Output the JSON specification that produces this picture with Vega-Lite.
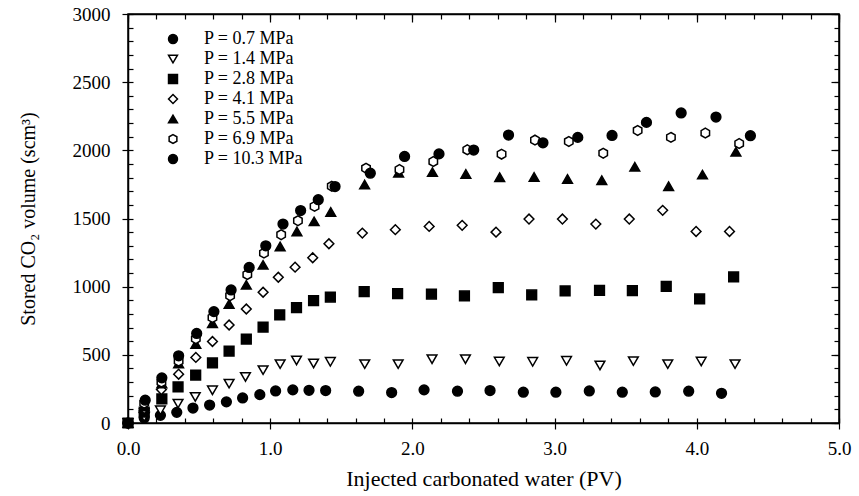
{
  "$schema": "https://vega.github.io/schema/vega-lite/v6.json",
  "width": 711,
  "height": 409,
  "autosize": {"type": "none"},
  "padding": {"left": 128, "top": 14, "right": 20, "bottom": 73},
  "background": "white",
  "config": {
    "view": {"stroke": "black", "strokeWidth": 1.5},
    "font": "Liberation Serif",
    "axis": {"grid": false, "labelFlush": false, "labelOverlap": false, "domainColor": "black", "tickColor": "black", "labelColor": "black", "titleColor": "black", "labelFont": "Liberation Serif", "titleFont": "Liberation Serif", "titleFontWeight": "normal", "domainWidth": 1.5, "tickWidth": 1.2}
  },
  "data": {"values": [
    {"P": "P = 0.7 MPa", "x": 0, "y": 0},
    {"P": "P = 0.7 MPa", "x": 0.114, "y": 37},
    {"P": "P = 0.7 MPa", "x": 0.228, "y": 56},
    {"P": "P = 0.7 MPa", "x": 0.343, "y": 78},
    {"P": "P = 0.7 MPa", "x": 0.457, "y": 110},
    {"P": "P = 0.7 MPa", "x": 0.574, "y": 132},
    {"P": "P = 0.7 MPa", "x": 0.692, "y": 155},
    {"P": "P = 0.7 MPa", "x": 0.806, "y": 184},
    {"P": "P = 0.7 MPa", "x": 0.927, "y": 208},
    {"P": "P = 0.7 MPa", "x": 1.038, "y": 235},
    {"P": "P = 0.7 MPa", "x": 1.159, "y": 243},
    {"P": "P = 0.7 MPa", "x": 1.273, "y": 240},
    {"P": "P = 0.7 MPa", "x": 1.39, "y": 238},
    {"P": "P = 0.7 MPa", "x": 1.622, "y": 233},
    {"P": "P = 0.7 MPa", "x": 1.854, "y": 223},
    {"P": "P = 0.7 MPa", "x": 2.082, "y": 243},
    {"P": "P = 0.7 MPa", "x": 2.317, "y": 233},
    {"P": "P = 0.7 MPa", "x": 2.546, "y": 238},
    {"P": "P = 0.7 MPa", "x": 2.78, "y": 226},
    {"P": "P = 0.7 MPa", "x": 3.009, "y": 226},
    {"P": "P = 0.7 MPa", "x": 3.244, "y": 235},
    {"P": "P = 0.7 MPa", "x": 3.476, "y": 226},
    {"P": "P = 0.7 MPa", "x": 3.708, "y": 228},
    {"P": "P = 0.7 MPa", "x": 3.943, "y": 233},
    {"P": "P = 0.7 MPa", "x": 4.174, "y": 218},

    {"P": "P = 1.4 MPa", "x": 0, "y": 0},
    {"P": "P = 1.4 MPa", "x": 0.114, "y": 44},
    {"P": "P = 1.4 MPa", "x": 0.228, "y": 93},
    {"P": "P = 1.4 MPa", "x": 0.352, "y": 142},
    {"P": "P = 1.4 MPa", "x": 0.473, "y": 191},
    {"P": "P = 1.4 MPa", "x": 0.594, "y": 240},
    {"P": "P = 1.4 MPa", "x": 0.711, "y": 289},
    {"P": "P = 1.4 MPa", "x": 0.826, "y": 338},
    {"P": "P = 1.4 MPa", "x": 0.95, "y": 388},
    {"P": "P = 1.4 MPa", "x": 1.07, "y": 432},
    {"P": "P = 1.4 MPa", "x": 1.185, "y": 459},
    {"P": "P = 1.4 MPa", "x": 1.305, "y": 437},
    {"P": "P = 1.4 MPa", "x": 1.423, "y": 449},
    {"P": "P = 1.4 MPa", "x": 1.665, "y": 432},
    {"P": "P = 1.4 MPa", "x": 1.9, "y": 432},
    {"P": "P = 1.4 MPa", "x": 2.138, "y": 468},
    {"P": "P = 1.4 MPa", "x": 2.373, "y": 468},
    {"P": "P = 1.4 MPa", "x": 2.611, "y": 451},
    {"P": "P = 1.4 MPa", "x": 2.846, "y": 449},
    {"P": "P = 1.4 MPa", "x": 3.084, "y": 456},
    {"P": "P = 1.4 MPa", "x": 3.319, "y": 422},
    {"P": "P = 1.4 MPa", "x": 3.554, "y": 454},
    {"P": "P = 1.4 MPa", "x": 3.796, "y": 432},
    {"P": "P = 1.4 MPa", "x": 4.031, "y": 451},
    {"P": "P = 1.4 MPa", "x": 4.269, "y": 432},

    {"P": "P = 2.8 MPa", "x": 0, "y": 0},
    {"P": "P = 2.8 MPa", "x": 0.114, "y": 80},
    {"P": "P = 2.8 MPa", "x": 0.238, "y": 177},
    {"P": "P = 2.8 MPa", "x": 0.352, "y": 265},
    {"P": "P = 2.8 MPa", "x": 0.476, "y": 351},
    {"P": "P = 2.8 MPa", "x": 0.594, "y": 441},
    {"P": "P = 2.8 MPa", "x": 0.711, "y": 527},
    {"P": "P = 2.8 MPa", "x": 0.832, "y": 615},
    {"P": "P = 2.8 MPa", "x": 0.95, "y": 703},
    {"P": "P = 2.8 MPa", "x": 1.067, "y": 794},
    {"P": "P = 2.8 MPa", "x": 1.185, "y": 846},
    {"P": "P = 2.8 MPa", "x": 1.305, "y": 897},
    {"P": "P = 2.8 MPa", "x": 1.423, "y": 924},
    {"P": "P = 2.8 MPa", "x": 1.661, "y": 963},
    {"P": "P = 2.8 MPa", "x": 1.896, "y": 949},
    {"P": "P = 2.8 MPa", "x": 2.134, "y": 946},
    {"P": "P = 2.8 MPa", "x": 2.366, "y": 932},
    {"P": "P = 2.8 MPa", "x": 2.604, "y": 993},
    {"P": "P = 2.8 MPa", "x": 2.839, "y": 939},
    {"P": "P = 2.8 MPa", "x": 3.074, "y": 969},
    {"P": "P = 2.8 MPa", "x": 3.316, "y": 973},
    {"P": "P = 2.8 MPa", "x": 3.547, "y": 971},
    {"P": "P = 2.8 MPa", "x": 3.785, "y": 1003},
    {"P": "P = 2.8 MPa", "x": 4.02, "y": 910},
    {"P": "P = 2.8 MPa", "x": 4.259, "y": 1072},

    {"P": "P = 4.1 MPa", "x": 0, "y": 0},
    {"P": "P = 4.1 MPa", "x": 0.114, "y": 105},
    {"P": "P = 4.1 MPa", "x": 0.235, "y": 245},
    {"P": "P = 4.1 MPa", "x": 0.356, "y": 358},
    {"P": "P = 4.1 MPa", "x": 0.477, "y": 481},
    {"P": "P = 4.1 MPa", "x": 0.594, "y": 598},
    {"P": "P = 4.1 MPa", "x": 0.711, "y": 719},
    {"P": "P = 4.1 MPa", "x": 0.832, "y": 836},
    {"P": "P = 4.1 MPa", "x": 0.95, "y": 959},
    {"P": "P = 4.1 MPa", "x": 1.057, "y": 1069},
    {"P": "P = 4.1 MPa", "x": 1.175, "y": 1143},
    {"P": "P = 4.1 MPa", "x": 1.299, "y": 1212},
    {"P": "P = 4.1 MPa", "x": 1.413, "y": 1315},
    {"P": "P = 4.1 MPa", "x": 1.648, "y": 1393},
    {"P": "P = 4.1 MPa", "x": 1.88, "y": 1418},
    {"P": "P = 4.1 MPa", "x": 2.118, "y": 1442},
    {"P": "P = 4.1 MPa", "x": 2.35, "y": 1450},
    {"P": "P = 4.1 MPa", "x": 2.588, "y": 1400},
    {"P": "P = 4.1 MPa", "x": 2.82, "y": 1496},
    {"P": "P = 4.1 MPa", "x": 3.055, "y": 1496},
    {"P": "P = 4.1 MPa", "x": 3.29, "y": 1459},
    {"P": "P = 4.1 MPa", "x": 3.525, "y": 1496},
    {"P": "P = 4.1 MPa", "x": 3.76, "y": 1560},
    {"P": "P = 4.1 MPa", "x": 3.995, "y": 1405},
    {"P": "P = 4.1 MPa", "x": 4.23, "y": 1405},

    {"P": "P = 5.5 MPa", "x": 0, "y": 0},
    {"P": "P = 5.5 MPa", "x": 0.114, "y": 120},
    {"P": "P = 5.5 MPa", "x": 0.238, "y": 290},
    {"P": "P = 5.5 MPa", "x": 0.356, "y": 437},
    {"P": "P = 5.5 MPa", "x": 0.477, "y": 579},
    {"P": "P = 5.5 MPa", "x": 0.594, "y": 731},
    {"P": "P = 5.5 MPa", "x": 0.711, "y": 873},
    {"P": "P = 5.5 MPa", "x": 0.832, "y": 1013},
    {"P": "P = 5.5 MPa", "x": 0.95, "y": 1160},
    {"P": "P = 5.5 MPa", "x": 1.07, "y": 1295},
    {"P": "P = 5.5 MPa", "x": 1.188, "y": 1405},
    {"P": "P = 5.5 MPa", "x": 1.309, "y": 1479},
    {"P": "P = 5.5 MPa", "x": 1.426, "y": 1548},
    {"P": "P = 5.5 MPa", "x": 1.664, "y": 1749},
    {"P": "P = 5.5 MPa", "x": 1.903, "y": 1835},
    {"P": "P = 5.5 MPa", "x": 2.141, "y": 1840},
    {"P": "P = 5.5 MPa", "x": 2.376, "y": 1827},
    {"P": "P = 5.5 MPa", "x": 2.614, "y": 1803},
    {"P": "P = 5.5 MPa", "x": 2.856, "y": 1805},
    {"P": "P = 5.5 MPa", "x": 3.091, "y": 1790},
    {"P": "P = 5.5 MPa", "x": 3.332, "y": 1781},
    {"P": "P = 5.5 MPa", "x": 3.564, "y": 1879},
    {"P": "P = 5.5 MPa", "x": 3.802, "y": 1737},
    {"P": "P = 5.5 MPa", "x": 4.04, "y": 1822},
    {"P": "P = 5.5 MPa", "x": 4.275, "y": 1989},

    {"P": "P = 6.9 MPa", "x": 0, "y": 0},
    {"P": "P = 6.9 MPa", "x": 0.114, "y": 145},
    {"P": "P = 6.9 MPa", "x": 0.235, "y": 300},
    {"P": "P = 6.9 MPa", "x": 0.356, "y": 454},
    {"P": "P = 6.9 MPa", "x": 0.477, "y": 618},
    {"P": "P = 6.9 MPa", "x": 0.594, "y": 773},
    {"P": "P = 6.9 MPa", "x": 0.718, "y": 934},
    {"P": "P = 6.9 MPa", "x": 0.839, "y": 1089},
    {"P": "P = 6.9 MPa", "x": 0.956, "y": 1246},
    {"P": "P = 6.9 MPa", "x": 1.077, "y": 1381},
    {"P": "P = 6.9 MPa", "x": 1.195, "y": 1484},
    {"P": "P = 6.9 MPa", "x": 1.312, "y": 1589},
    {"P": "P = 6.9 MPa", "x": 1.433, "y": 1737},
    {"P": "P = 6.9 MPa", "x": 1.674, "y": 1869},
    {"P": "P = 6.9 MPa", "x": 1.909, "y": 1859},
    {"P": "P = 6.9 MPa", "x": 2.147, "y": 1918},
    {"P": "P = 6.9 MPa", "x": 2.386, "y": 2004},
    {"P": "P = 6.9 MPa", "x": 2.627, "y": 1972},
    {"P": "P = 6.9 MPa", "x": 2.862, "y": 2075},
    {"P": "P = 6.9 MPa", "x": 3.1, "y": 2065},
    {"P": "P = 6.9 MPa", "x": 3.342, "y": 1979},
    {"P": "P = 6.9 MPa", "x": 3.584, "y": 2146},
    {"P": "P = 6.9 MPa", "x": 3.818, "y": 2095},
    {"P": "P = 6.9 MPa", "x": 4.06, "y": 2127},
    {"P": "P = 6.9 MPa", "x": 4.298, "y": 2050},

    {"P": "P = 10.3 MPa", "x": 0, "y": 0},
    {"P": "P = 10.3 MPa", "x": 0.121, "y": 167},
    {"P": "P = 10.3 MPa", "x": 0.238, "y": 331},
    {"P": "P = 10.3 MPa", "x": 0.356, "y": 493},
    {"P": "P = 10.3 MPa", "x": 0.483, "y": 657},
    {"P": "P = 10.3 MPa", "x": 0.604, "y": 817},
    {"P": "P = 10.3 MPa", "x": 0.725, "y": 976},
    {"P": "P = 10.3 MPa", "x": 0.852, "y": 1141},
    {"P": "P = 10.3 MPa", "x": 0.969, "y": 1300},
    {"P": "P = 10.3 MPa", "x": 1.09, "y": 1459},
    {"P": "P = 10.3 MPa", "x": 1.214, "y": 1558},
    {"P": "P = 10.3 MPa", "x": 1.338, "y": 1638},
    {"P": "P = 10.3 MPa", "x": 1.456, "y": 1734},
    {"P": "P = 10.3 MPa", "x": 1.704, "y": 1832},
    {"P": "P = 10.3 MPa", "x": 1.945, "y": 1955},
    {"P": "P = 10.3 MPa", "x": 2.187, "y": 1974},
    {"P": "P = 10.3 MPa", "x": 2.431, "y": 2002},
    {"P": "P = 10.3 MPa", "x": 2.676, "y": 2112},
    {"P": "P = 10.3 MPa", "x": 2.918, "y": 2055},
    {"P": "P = 10.3 MPa", "x": 3.163, "y": 2095},
    {"P": "P = 10.3 MPa", "x": 3.404, "y": 2109},
    {"P": "P = 10.3 MPa", "x": 3.646, "y": 2205},
    {"P": "P = 10.3 MPa", "x": 3.89, "y": 2274},
    {"P": "P = 10.3 MPa", "x": 4.135, "y": 2244},
    {"P": "P = 10.3 MPa", "x": 4.377, "y": 2107}
  ]},
  "resolve": {"axis": {"x": "independent", "y": "independent"}},
  "layer": [
    {
      "mark": {"type": "point", "opacity": 0},
      "encoding": {
        "x": {"field": "x", "type": "quantitative", "scale": {"domain": [0, 5], "nice": false},
              "axis": {"orient": "bottom", "values": [0,0.2,0.4,0.6,0.8,1,1.2,1.4,1.6,1.8,2,2.2,2.4,2.6,2.8,3,3.2,3.4,3.6,3.8,4,4.2,4.4,4.6,4.8,5], "tickSize": -5, "labels": false, "domain": false, "title": null}},
        "y": {"field": "y", "type": "quantitative", "scale": {"domain": [0, 3000], "nice": false},
              "axis": {"orient": "left", "values": [0,100,200,300,400,500,600,700,800,900,1000,1100,1200,1300,1400,1500,1600,1700,1800,1900,2000,2100,2200,2300,2400,2500,2600,2700,2800,2900,3000], "tickSize": -5, "labels": false, "domain": false, "title": null}}
      }
    },
    {
      "mark": {"type": "point", "opacity": 0},
      "encoding": {
        "x": {"field": "x", "type": "quantitative",
              "axis": {"orient": "top", "values": [0,0.2,0.4,0.6,0.8,1,1.2,1.4,1.6,1.8,2,2.2,2.4,2.6,2.8,3,3.2,3.4,3.6,3.8,4,4.2,4.4,4.6,4.8,5], "tickSize": -5, "labels": false, "domain": true, "title": null}},
        "y": {"field": "y", "type": "quantitative",
              "axis": {"orient": "right", "values": [0,100,200,300,400,500,600,700,800,900,1000,1100,1200,1300,1400,1500,1600,1700,1800,1900,2000,2100,2200,2300,2400,2500,2600,2700,2800,2900,3000], "tickSize": -5, "labels": false, "domain": true, "title": null}}
      }
    },
    {
      "mark": {"type": "point", "opacity": 0},
      "encoding": {
        "x": {"field": "x", "type": "quantitative",
              "axis": {"orient": "top", "values": [0,1,2,3,4,5], "tickSize": -8, "labels": false, "domain": false, "title": null}},
        "y": {"field": "y", "type": "quantitative",
              "axis": {"orient": "right", "values": [0,500,1000,1500,2000,2500,3000], "tickSize": -8, "labels": false, "domain": false, "title": null}}
      }
    },
    {
      "mark": {"type": "point", "filled": true, "strokeWidth": 1.5, "size": 95, "opacity": 1},
      "encoding": {
        "x": {"field": "x", "type": "quantitative",
              "axis": {"orient": "bottom", "values": [0,1,2,3,4,5], "format": ".1f", "tickSize": 6, "labelFontSize": 19, "labelPadding": 10, "title": "Injected carbonated water (PV)", "titleFontSize": 22, "titlePadding": 10}},
        "y": {"field": "y", "type": "quantitative",
              "axis": {"orient": "left", "values": [0,500,1000,1500,2000,2500,3000], "format": "d", "tickSize": 6, "labelFontSize": 19, "labelPadding": 12, "title": "Stored CO₂ volume (scm³)", "titleFontSize": 20, "titlePadding": 34}},
        "fill": {"field": "P", "type": "nominal",
                 "scale": {"domain": ["P = 0.7 MPa", "P = 1.4 MPa", "P = 2.8 MPa", "P = 4.1 MPa", "P = 5.5 MPa", "P = 6.9 MPa", "P = 10.3 MPa"],
                           "range": ["black", "white", "black", "white", "black", "white", "black"]},
                 "legend": {"title": null, "orient": "none", "legendX": 36, "legendY": 16, "labelFont": "Liberation Serif", "labelFontSize": 18, "labelColor": "black", "symbolSize": 80, "symbolStrokeWidth": 1.5, "labelOffset": 22, "rowPadding": 2, "labelLimit": 300}},
        "stroke": {"field": "P", "type": "nominal",
                 "scale": {"domain": ["P = 0.7 MPa", "P = 1.4 MPa", "P = 2.8 MPa", "P = 4.1 MPa", "P = 5.5 MPa", "P = 6.9 MPa", "P = 10.3 MPa"],
                           "range": ["black", "black", "black", "black", "black", "black", "black"]},
                 "legend": {"title": null, "orient": "none", "legendX": 36, "legendY": 16, "labelFont": "Liberation Serif", "labelFontSize": 18, "labelColor": "black", "symbolSize": 80, "symbolStrokeWidth": 1.5, "labelOffset": 22, "rowPadding": 2, "labelLimit": 300}},
        "shape": {"field": "P", "type": "nominal",
                  "scale": {"domain": ["P = 0.7 MPa", "P = 1.4 MPa", "P = 2.8 MPa", "P = 4.1 MPa", "P = 5.5 MPa", "P = 6.9 MPa", "P = 10.3 MPa"],
                            "range": ["circle", "triangle-down", "square", "diamond", "triangle-up", "M0,-1L0.866,-0.5L0.866,0.5L0,1L-0.866,0.5L-0.866,-0.5Z", "circle"]},
                  "legend": {"title": null, "orient": "none", "legendX": 36, "legendY": 16, "labelFont": "Liberation Serif", "labelFontSize": 18, "labelColor": "black", "symbolSize": 80, "symbolStrokeWidth": 1.5, "labelOffset": 22, "rowPadding": 2, "labelLimit": 300}}
      }
    }
  ]
}
